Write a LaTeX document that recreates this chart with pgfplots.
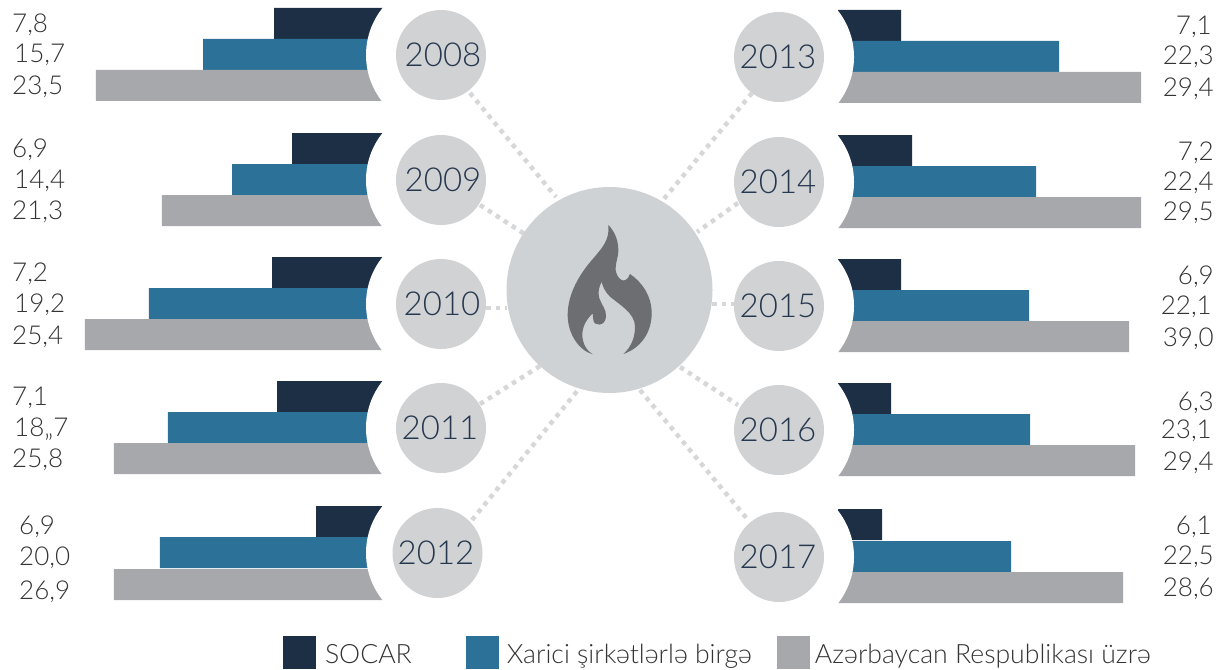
\documentclass[border=0pt]{standalone}
\usepackage{fontspec}
\setmainfont{Lato}[UprightFont=* Light]
\usepackage{pgfplots}
\pgfplotsset{compat=1.18}
\definecolor{socar}{HTML}{1D2F45}
\definecolor{joint}{HTML}{2C7197}
\definecolor{total}{HTML}{A7A8AB}
\definecolor{yearbg}{HTML}{D1D2D4}
\definecolor{hubbg}{HTML}{CFD2D5}
\definecolor{flame}{HTML}{6D6E71}
\definecolor{dots}{HTML}{D6D7D9}
\definecolor{yeartxt}{HTML}{26384F}
\definecolor{valtxt}{HTML}{333333}
\pgfplotsset{
  canvas/.style={width=1222pt,height=669pt,scale only axis,hide axis,
    ymin=0,ymax=669,y dir=reverse},
  barrow/.style={xbar,bar width=31pt,bar shift=0pt,draw=none,fill=#1,mark=none,forget plot},
}
\newcommand{\yr}[3]{\node[font=\fontsize{33}{33}\selectfont,text=yeartxt,inner sep=0pt] at (axis cs:#1,#2) {#3};}
\newcommand{\yc}[2]{\fill[yearbg] (axis cs:#1,#2) circle[radius=45pt];}
\newcommand{\wc}[2]{\fill[white] (axis cs:#1,#2) circle[radius=75pt];}
\newcommand{\vl}[3]{\node[font=\fontsize{26}{26}\selectfont,text=valtxt,inner sep=0pt,anchor=west] at (axis cs:#1,#2+1) {#3};}
\newcommand{\vr}[3]{\node[font=\fontsize{26}{26}\selectfont,text=valtxt,inner sep=0pt,anchor=east] at (axis cs:#1,#2+1) {#3};}
\newcommand{\dl}[4]{\draw[dots,line width=4.5pt,dash pattern=on 4.5pt off 5pt] (axis cs:#1,#2) -- (axis cs:#3,#4);}
\begin{document}
\begin{tikzpicture}
\useasboundingbox (0,0) rectangle (1222pt,669pt);
% left block: bar lengths in picture pixels, measured from the base at x=383
\begin{axis}[canvas,x dir=reverse,xmin=-839,xmax=383]
\addplot[barrow=socar] coordinates {(109,23.5) (91,148.5) (111,272.5) (106,396.5) (67,521.5)};
\addplot[barrow=joint] coordinates {(180,54.5) (151,179.5) (234,303.5) (215,427.5) (223,552.5)};
\addplot[barrow=total] coordinates {(287,85.5) (221,210.5) (298,334.5) (269,458.5) (269,584.5)};
\end{axis}
% right block: the same, measured from the base at x=838
\begin{axis}[canvas,xmin=-838,xmax=384]
\addplot[barrow=socar] coordinates {(63,25.5) (74,150.5) (63,274.5) (53,398.5) (44,524.5)};
\addplot[barrow=joint] coordinates {(221,56.5) (198,181.5) (191,305.5) (192,429.5) (173,556.5)};
\addplot[barrow=total] coordinates {(303,87.5) (303,212.5) (291,336.5) (297,460.5) (285,587.5)};
\end{axis}
% decoration and text, in picture pixels
\begin{axis}[canvas,xmin=0,xmax=1222,clip=false,
  legend columns=3,
  legend image code/.code={\path[#1,draw=none] (0pt,-14.5pt) rectangle (33pt,18.5pt);},
  legend cell align=left,
  legend style={at={(axis cs:283,669)},anchor=south west,draw=none,fill=none,inner sep=0pt,outer sep=0pt,
    font=\fontsize{26.6}{26.6}\selectfont,text=valtxt,
    /tikz/column 1/.style={column sep=9pt},
    /tikz/column 2/.style={column sep=54pt},
    /tikz/column 3/.style={column sep=8pt},
    /tikz/column 4/.style={column sep=25pt},
    /tikz/column 5/.style={column sep=5pt},
    nodes={inner sep=0pt}},
]
\addlegendimage{fill=socar}\addlegendentry{SOCAR}
\addlegendimage{fill=joint}\addlegendentry{Xarici şirkətlərlə birgə}
\addlegendimage{fill=total}\addlegendentry{Azərbaycan Respublikası üzrə}

\wc{441}{55}\wc{441}{180}\wc{441}{304}\wc{441}{428}\wc{441}{553}
\wc{779}{57}\wc{779}{182}\wc{779}{306}\wc{779}{430}\wc{779}{557}

\dl{470}{93}{556}{197}
\dl{480}{205}{526}{235}
\dl{486}{308}{507}{308}
\dl{480}{404}{540}{366}
\dl{472}{520}{578}{390}
\dl{752}{93}{663}{200}
\dl{738}{203}{697}{232}
\dl{712}{304}{734}{304}
\dl{680}{367}{738}{405}
\dl{640}{390}{748}{520}

\yc{441}{55}\yc{441}{180}\yc{441}{304}\yc{441}{428}\yc{437.5}{553}
\yc{779}{57}\yc{779}{182}\yc{779}{306}\yc{779}{430}\yc{779}{557}

\yr{443}{55}{2008}\yr{443}{180}{2009}\yr{442}{304}{2010}\yr{440}{428}{2011}\yr{436}{553}{2012}
\yr{778}{57}{2013}\yr{778}{182}{2014}\yr{778}{306}{2015}\yr{778}{430}{2016}\yr{778}{557}{2017}

\fill[hubbg] (axis cs:609.5,290) circle[radius=103pt];
\path (axis cs:480,170) coordinate (F);
\fill[flame,shift={(F)},x=0.33333pt,y=-0.33333pt]
  (385,165) .. controls (395,175) and (415,200) .. (415,240)
  .. controls (415,265) and (405,280) .. (407,300)
  .. controls (410,325) and (435,350) .. (450,312)
  .. controls (490,340) and (515,380) .. (515,430)
  .. controls (515,490) and (480,535) .. (430,552)
  .. controls (455,530) and (465,500) .. (465,470)
  .. controls (465,430) and (420,405) .. (390,380)
  .. controls (375,365) and (368,350) .. (365,335)
  .. controls (358,350) and (352,365) .. (358,385)
  .. controls (365,405) and (380,420) .. (378,440)
  .. controls (376,470) and (342,470) .. (340,450)
  .. controls (339,445) and (339,438) .. (338,430)
  .. controls (318,450) and (307,470) .. (307,495)
  .. controls (307,520) and (320,542) .. (338,553)
  .. controls (295,540) and (263,490) .. (263,435)
  .. controls (263,370) and (300,310) .. (340,265)
  .. controls (365,235) and (390,210) .. (385,165) -- cycle;

\vl{12}{24}{7,8}\vl{14}{54}{15,7}\vl{12}{86}{23,5}
\vl{12}{149}{6,9}\vl{14}{180}{14,4}\vl{12}{211}{21,3}
\vl{12}{273}{7,2}\vl{14}{304}{19,2}\vl{12}{336}{25,4}
\vl{12}{397}{7,1}\vl{14}{428}{18„7}\vl{12}{459}{25,8}
\vl{19}{526}{6,9}\vl{19}{557}{20,0}\vl{19}{591}{26,9}
\vr{1212}{26}{7,1}\vr{1214}{56}{22,3}\vr{1214}{88}{29,4}
\vr{1214}{152}{7,2}\vr{1214}{182}{22,4}\vr{1214}{212}{29,5}
\vr{1214}{276}{6,9}\vr{1212}{306}{22,1}\vr{1214}{338}{39,0}
\vr{1214}{402}{6,3}\vr{1212}{430}{23,1}\vr{1214}{462}{29,4}
\vr{1212}{526}{6,1}\vr{1214}{556}{22,5}\vr{1214}{588}{28,6}
\end{axis}
\end{tikzpicture}
\end{document}
